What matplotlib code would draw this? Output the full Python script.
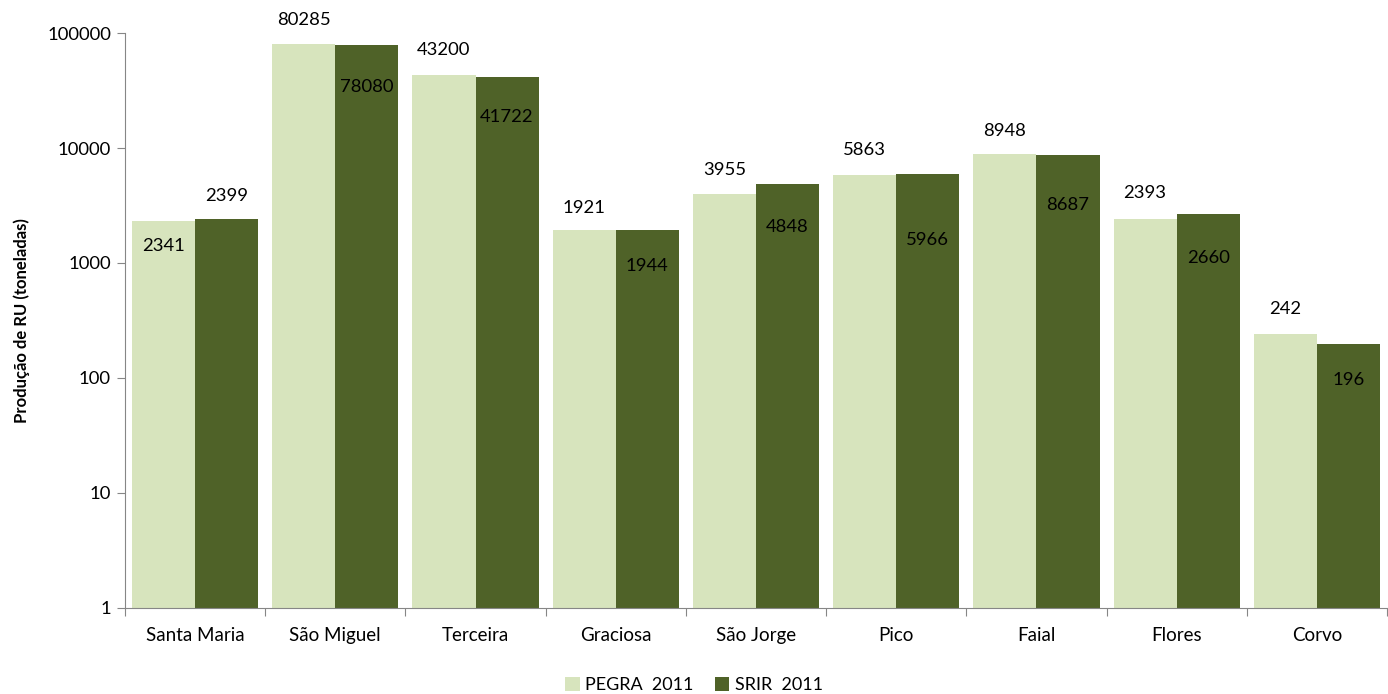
import matplotlib
matplotlib.use('Agg')
import matplotlib.pyplot as plt
import numpy as np

plt.rcParams['font.family'] = ['Lato', 'DejaVu Sans']

ilhas = ['Santa Maria', 'São Miguel', 'Terceira', 'Graciosa', 'São Jorge',
         'Pico', 'Faial', 'Flores', 'Corvo']
pegra = [2341, 80285, 43200, 1921, 3955, 5863, 8948, 2393, 242]
srir = [2399, 78080, 41722, 1944, 4848, 5966, 8687, 2660, 196]
# label offset from bar top, in pixels (+ above, - inside)
off_pegra = [-25, 24, 25, 22, 24, 25, 23, 26, 25]
off_srir = [23, -42, -40, -36, -43, -66, -50, -44, -36]

cor_pegra = '#D7E4BD'
cor_srir = '#4F6228'

fig = plt.figure(figsize=(13.88, 6.94), dpi=100)
ax = fig.add_axes([0.0900, 0.124, 0.9093, 0.8284])

x = np.arange(len(ilhas))
w = 0.45
b1 = ax.bar(x - w / 2, pegra, w, color=cor_pegra, label='PEGRA  2011')
b2 = ax.bar(x + w / 2, srir, w, color=cor_srir, label='SRIR  2011')

ax.set_yscale('log')
ax.set_ylim(1, 100000)
ax.set_xlim(-0.5, len(ilhas) - 0.5)
ax.set_yticks([1, 10, 100, 1000, 10000, 100000])
ax.set_yticklabels(['1', '10', '100', '1000', '10000', '100000'])
ax.yaxis.set_minor_locator(matplotlib.ticker.NullLocator())

ax.set_xticks(np.arange(len(ilhas) + 1) - 0.5)
ax.set_xticklabels([])
ax.set_xticks(x, minor=True)
ax.set_xticklabels(ilhas, minor=True)
ax.tick_params(axis='x', which='minor', length=0, pad=14, labelsize=13.5)
ax.tick_params(axis='x', which='major', length=6, color='#868686')
ax.tick_params(axis='y', length=6, color='#868686', labelsize=13.3, pad=4)

for s in ['top', 'right']:
    ax.spines[s].set_visible(False)
for s in ['left', 'bottom']:
    ax.spines[s].set_color('#868686')

for bars, vals, offs in [(b1, pegra, off_pegra), (b2, srir, off_srir)]:
    for bar, v, o in zip(bars, vals, offs):
        ax.annotate(str(v), (bar.get_x() + bar.get_width() / 2, v),
                    xytext=(0, o * 0.72), textcoords='offset points',
                    ha='center', va='center', fontsize=13.3, color='black')

ax.set_ylabel('Produção de RU (toneladas)', fontsize=12, fontweight='bold', labelpad=12)

fig.legend(loc='lower center', ncol=2, frameon=False, fontsize=13,
           bbox_to_anchor=(0.5, -0.022), handlelength=0.8, handleheight=0.8,
           handletextpad=0.3, columnspacing=1.2)

fig.savefig('out.png', dpi=100)
